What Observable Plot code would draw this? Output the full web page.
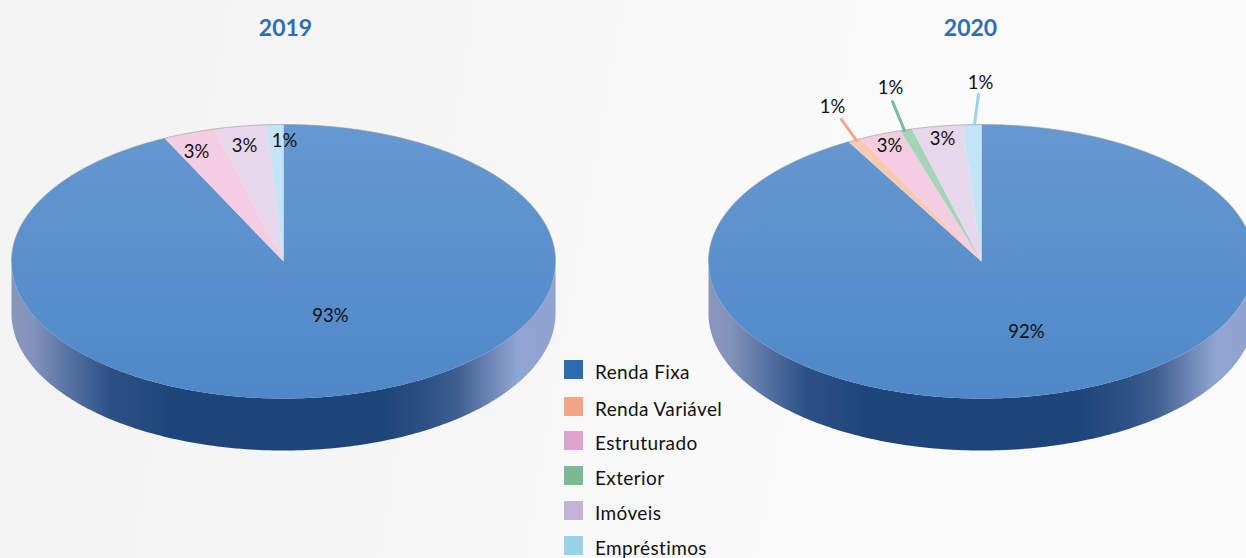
<!DOCTYPE html>
<html lang="pt">
<head>
<meta charset="utf-8">
<script src="https://cdn.jsdelivr.net/npm/d3@7"></script>
<script src="https://cdn.jsdelivr.net/npm/@observablehq/plot@0.6"></script>
<style>
  html, body { margin: 0; padding: 0; width: 1246px; height: 558px; overflow: hidden;
    background: linear-gradient(100deg, #f3f3f3 0%, #f6f6f6 40%, #fafafa 65%, #fbfbfb 100%); }
  svg { display: block; background: transparent !important; }
</style>
</head>
<body>
<div id="chart"></div>
<script>
// ---- Data ----
const categories = ["Renda Fixa", "Renda Variável", "Estruturado", "Exterior", "Imóveis", "Empréstimos"];
const share2019 = [92.8, 0, 3.1, 0, 3.1, 1.0];
const share2020 = [91.9, 0.8, 2.5, 0.7, 3.0, 1.1];
const legendColors = ["#2b6cb0", "#f4a585", "#dda4cc", "#7abb94", "#c3b3d9", "#9ad3e8"];
const wedgeColors = ["url(#pieTop)", "#f8cab4", "#f5cde3", "#a6d4b6", "#e6d8ea", "#c3e4f6"];

// ---- Layout of the drawing ----
const W = 1246, H = 558;
const pies = [
  {year: "2019", cx: 283, cy: 261, rx: 272, ry: 137, shares: share2019, titleX: 285,
   labelPos: [[330, 316], null, [196, 152], null, [244, 146], [284, 141]], leaders: []},
  {year: "2020", cx: 981, cy: 261, rx: 273, ry: 137, shares: share2020, titleX: 970,
   labelPos: [[1026, 332], [832, 107], [889, 146], [890, 88], [942, 139], [980, 83]],
   leaders: [
     {i: 1, from: [856, 140], to: [841, 119]},
     {i: 3, from: [904, 130], to: [892, 101]},
     {i: 5, from: [974, 124], to: [978, 94]}
   ]}
];
const depth = 52;
const legendTop = [360, 397, 431, 466, 501, 536];
const font = "Lato, Carlito, 'Open Sans', sans-serif";

const rad = d => d * Math.PI / 180;
const onRim = (p, deg, dy = 0) => ({
  x: p.cx + p.rx * Math.sin(rad(deg)),
  y: p.cy - p.ry * Math.cos(rad(deg)) + dy
});

// wedge outlines, clockwise from 12 o'clock, angles come from the shares
function wedges(p) {
  const total = d3.sum(p.shares);
  let start = 0;
  return p.shares.map((s, i) => {
    const end = start + s / total * 360;
    const pts = [{x: p.cx, y: p.cy}];
    for (let a = start; a < end; a += 1) pts.push(onRim(p, a));
    pts.push(onRim(p, end));
    pts.push({x: p.cx, y: p.cy});
    const w = {i, share: s, pts};
    start = end;
    return w;
  }).filter(w => w.share > 0);
}
function sideWall(p) {
  const top = d3.range(90, 271, 1).map(a => onRim(p, a));
  const bottom = d3.range(270, 89, -1).map(a => onRim(p, a, depth));
  return [...top, ...bottom];
}
function backEdge(p) {
  return d3.range(-90, 91, 1).map(a => onRim(p, a));
}

function gradients() {
  const defs = d3.create("svg:defs");
  const side = defs.append("linearGradient").attr("id", "pieSide")
    .attr("x1", 0).attr("x2", 1).attr("y1", 0).attr("y2", 0);
  [[0, "#8898bc"], [0.04, "#8292ba"], [0.10, "#5a75a5"], [0.18, "#2c5187"], [0.29, "#1e4579"],
   [0.68, "#1e4579"], [0.76, "#2b5084"], [0.82, "#3f5f90"], [0.88, "#6d85b5"], [0.93, "#90a5d3"], [1, "#8fa3d0"]]
    .forEach(([o, c]) => side.append("stop").attr("offset", o).attr("stop-color", c));
  const top = defs.append("linearGradient").attr("id", "pieTop")
    .attr("x1", 0).attr("x2", 0).attr("y1", 0).attr("y2", 1);
  [[0, "#6698d1"], [1, "#4f88c8"]]
    .forEach(([o, c]) => top.append("stop").attr("offset", o).attr("stop-color", c));
  return defs.node();
}

const marks = [gradients];

for (const p of pies) {
  marks.push(Plot.line(sideWall(p), {x: "x", y: "y", fill: "url(#pieSide)", stroke: "none"}));
  for (const w of wedges(p)) {
    marks.push(Plot.line(w.pts, {x: "x", y: "y", fill: wedgeColors[w.i], stroke: "none"}));
  }
  marks.push(Plot.line(backEdge(p), {x: "x", y: "y", stroke: "#9a9a9a", strokeWidth: 0.8, strokeOpacity: 0.8}));
  for (const l of p.leaders) {
    marks.push(Plot.line([l.from, l.to], {x: d => d[0], y: d => d[1], stroke: legendColors[l.i], strokeWidth: 3}));
  }
  const labels = p.shares
    .map((s, i) => ({s, pos: p.labelPos[i]}))
    .filter(d => d.s > 0);
  marks.push(Plot.text(labels, {
    x: d => d.pos[0], y: d => d.pos[1],
    text: d => Math.round(d.s) + "%",
    fill: "#111", fontSize: 18.5, fontFamily: font
  }));
  marks.push(Plot.text([p.year], {
    x: () => p.titleX, y: () => 28, text: d => d,
    fill: "#2f6eb5", fontSize: 23, fontWeight: 700, fontFamily: font
  }));
}

// legend
const legendRows = categories.map((name, i) => ({name, color: legendColors[i], top: legendTop[i]}));
marks.push(Plot.rect(legendRows, {
  x1: () => 564, x2: () => 583,
  y1: d => d.top, y2: d => d.top + 19,
  fill: d => d.color
}));
marks.push(Plot.text(legendRows, {
  x: () => 594.5, y: d => d.top + 12,
  text: "name", textAnchor: "start",
  fill: "#111", fontSize: 19, fontFamily: font
}));

const chart = Plot.plot({
  width: W, height: H,
  margin: 0,
  x: {domain: [0, W], range: [0, W], axis: null},
  y: {domain: [0, H], range: [0, H], axis: null},
  color: {type: "identity"},
  style: {background: "transparent", overflow: "hidden"},
  marks
});
// the legend's type is tracked a little wider than the percentages
d3.select(chart).selectAll("text")
  .filter(function () { return categories.includes(this.textContent.trim()); })
  .style("letter-spacing", "0.38px");
document.getElementById("chart").appendChild(chart);
</script>
</body>
</html>
